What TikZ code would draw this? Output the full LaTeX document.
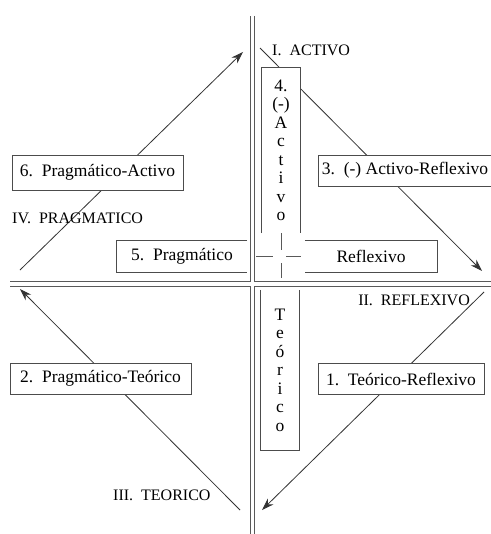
\documentclass[tikz,border=0pt]{standalone}
\usepackage{fontspec}
\setmainfont{Liberation Serif}
\usetikzlibrary{arrows.meta,positioning}

\begin{document}
\begin{tikzpicture}[x=1pt,y=-1pt,
  every node/.style={inner sep=0pt,text=black},
  box/.style={draw=black!70,fill=white,line width=0.8pt,minimum height=31pt,font=\fontsize{17.5}{18.5}\selectfont},
  arm/.style={fill=white,align=center,font=\fontsize{17.5}{18.5}\selectfont},
  side/.style={draw=black!70,line width=0.8pt},
  lbl/.style={font=\fontsize{16}{18}\selectfont},
  arr/.style={-{Stealth[length=12pt,width=8pt]},draw=black!80,line width=0.8pt},
  axis/.style={draw=black!65,line width=0.9pt,double=white,double distance=3.5pt},
  mid/.style={draw=black!65,line width=0.8pt,dash pattern=on 17pt off 13pt on 15pt off 20pt}]
\useasboundingbox[fill=white] (0,0) rectangle (490,534);
\coordinate (n) at (252.5,16);
\coordinate (s) at (252.5,540);
\coordinate (w) at (10,284);
\coordinate (e) at (495,284);
\coordinate (p1) at (20,270); \coordinate (a1) at (243,52);
\coordinate (a2) at (260,48); \coordinate (r2) at (482,271);
\coordinate (r3) at (484,292); \coordinate (t3) at (262,510);
\coordinate (t4) at (240,510); \coordinate (p4) at (20,289);
\draw[axis] (n)--(s) (w)--(e);
\foreach \a/\b in {p1/a1,a2/r2,r3/t3,t4/p4} \draw[arr] (\a)--(\b);
\node[arm,minimum width=130pt,minimum height=31pt] (b5) at (182,256.5) {5.\ \ Pragmático};
\node[arm,minimum width=132pt,minimum height=31pt] (rf) at (371,256.5) {Reflexivo};
\node[arm,minimum width=38pt,minimum height=165pt] (ac) at (281,150.5) {4.\\(-)\\A\\c\\t\\i\\v\\o};
\node[arm,minimum width=38pt,minimum height=160pt] (te) at (280,370) {T\\e\\ó\\r\\i\\c\\o};
\draw[side] (b5.north east)--(b5.north west)--(b5.south west)--(b5.south east);
\draw[side] (rf.north west)--(rf.north east)--(rf.south east)--(rf.south west);
\draw[side] (ac.south west)--(ac.north west)--(ac.north east)--(ac.south east);
\draw[side] (te.north west)--(te.south west)--(te.south east)--(te.north east);
\draw[mid] (ac.south)--(ac.south |- w);
\draw[mid] ([xshift=3.5pt]rf.west -| n)--(rf.west);
\node[box,minimum width=171pt,minimum height=35pt] (b6) at (97.5,172.5) {6.\ \ Pragmático-Activo};
\node[box,minimum width=174pt] (b3) at (405,170.5) {3.\ \ (-) Activo-Reflexivo};
\node[box,minimum width=181pt] (b2) at (100.5,378.5) {2.\ \ Pragmático-Teórico};
\node[box,minimum width=166pt] (b1) at (401,379) {1.\ \ Teórico-Reflexivo};
\node[lbl,anchor=west] (q1) at (272,50) {I.\ \ ACTIVO};
\node[lbl,anchor=east] (q2) at (470,300) {II.\ \ REFLEXIVO};
\node[lbl,anchor=west] (q3) at (113,495) {III.\ \ TEORICO};
\node[lbl,anchor=west] (q4) at (12,218) {IV.\ \ PRAGMATICO};
\end{tikzpicture}
\end{document}
